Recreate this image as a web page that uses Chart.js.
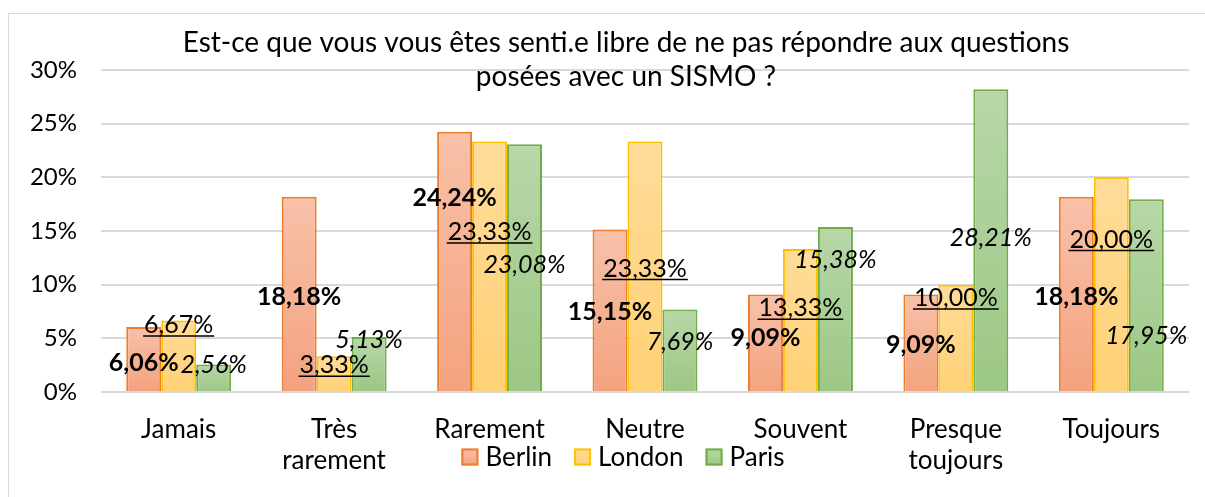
<!DOCTYPE html>
<html>
<head>
<meta charset="utf-8">
<script src="https://cdn.jsdelivr.net/npm/chart.js@4/dist/chart.umd.min.js"></script>
<style>
  html, body { margin: 0; padding: 0; background: #ffffff; }
  #wrap { position: relative; width: 1205px; height: 497px; }
  #frame { position: absolute; left: 8px; top: 13px; width: 1200px; height: 490px; border: 1.5px solid #d9d9d9; box-sizing: border-box; pointer-events: none; }
  canvas { position: absolute; left: 0; top: 0; }
</style>
</head>
<body>
<div id="wrap">
  <div id="frame"></div>
  <canvas id="c" width="1205" height="497"></canvas>
</div>
<script>
// ---- Data ----
const categories = ['Jamais', ['Très', 'rarement'], 'Rarement', 'Neutre', 'Souvent', ['Presque', 'toujours'], 'Toujours'];
const seriesNames = ['Berlin', 'London', 'Paris'];
const berlin = [6.06, 18.18, 24.24, 15.15, 9.09, 9.09, 18.18];
const london = [6.67, 3.33, 23.33, 23.33, 13.33, 10.00, 20.00];
const paris  = [2.56, 5.13, 23.08, 7.69, 15.38, 28.21, 17.95];
const yTicks = [0, 5, 10, 15, 20, 25, 30];
const titleLines = ['Est-ce que vous vous êtes senti.e libre de ne pas répondre aux questions', 'posées avec un SISMO ?'];

// label anchor heights (value units) as placed in the original
const berlinLabelAt = [2.7, 8.85, 18.1, 7.45, 5.0, 4.4, 8.85];
const londonLabelAt = [6.24, 2.5, 14.9, 11.5, 7.8, 8.76, 14.2];
const parisLabelAt  = [2.5, 4.85, 11.8, 4.66, 12.3, 14.35, 5.2];

// ---- Styles ----
const FONT = 'Lato, "Open Sans", sans-serif';
const FS_TITLE = 28, FS_TICK = 24, FS_CAT = 26, FS_LEG = 26, FS_LABEL = 25;
const styles = [
  { border: '#ed7d31', top: '#f8c1a9', bottom: '#f4a27e', weight: 'bold', italic: false, underline: false },
  { border: '#ffc000', top: '#ffdc9a', bottom: '#ffd175', weight: 'normal', italic: false, underline: true },
  { border: '#70ad47', top: '#b7d7a8', bottom: '#9dc785', weight: 'normal', italic: true, underline: false }
];
const labelAt = [berlinLabelAt, londonLabelAt, parisLabelAt];

function barGradient(i) {
  return function(ctx) {
    const chart = ctx.chart;
    const ys = chart.scales && chart.scales.y;
    if (!ys || ctx.type !== 'data') return styles[i].bottom;
    const top = ys.getPixelForValue(ctx.raw);
    const bottom = ys.getPixelForValue(0);
    if (!isFinite(top) || !isFinite(bottom) || top === bottom) return styles[i].bottom;
    const g = chart.ctx.createLinearGradient(0, top, 0, bottom);
    g.addColorStop(0, styles[i].top);
    g.addColorStop(1, styles[i].bottom);
    return g;
  };
}

const fmt = v => v.toFixed(2).replace('.', ',') + '%';

const overlayPlugin = {
  id: 'overlay',
  afterDatasetsDraw(chart) {
    const ctx = chart.ctx;
    const ys = chart.scales.y;
    ctx.save();
    chart.data.datasets.forEach((ds, di) => {
      const meta = chart.getDatasetMeta(di);
      const st = styles[di];
      meta.data.forEach((el, i) => {
        const txt = fmt(ds.data[i]);
        const x = el.x;
        const y = ys.getPixelForValue(labelAt[di][i]);
        ctx.font = (st.italic ? 'italic ' : '') + st.weight + ' ' + FS_LABEL + 'px ' + FONT;
        ctx.fillStyle = '#000000';
        ctx.textAlign = 'center';
        ctx.textBaseline = 'middle';
        ctx.fillText(txt, x, y);
        if (st.underline) {
          const w = ctx.measureText(txt).width;
          ctx.strokeStyle = '#000000';
          ctx.lineWidth = 1.5;
          ctx.beginPath();
          ctx.moveTo(x - w / 2 - 1, y + 11);
          ctx.lineTo(x + w / 2 + 1, y + 11);
          ctx.stroke();
        }
      });
    });
    ctx.restore();
  },
  afterDraw(chart) {
    const ctx = chart.ctx;
    ctx.save();
    // title
    ctx.font = 'normal ' + FS_TITLE + 'px ' + FONT;
    ctx.fillStyle = '#000000';
    ctx.textAlign = 'center';
    ctx.textBaseline = 'middle';
    ctx.fillText(titleLines[0], 626, 43);
    ctx.fillText(titleLines[1], 626, 77);
    // legend
    ctx.font = 'normal ' + FS_LEG + 'px ' + FONT;
    const box = 17, gapBox = 7, gapItem = 22;
    const widths = seriesNames.map(n => ctx.measureText(n).width);
    let total = 0;
    widths.forEach((w, i) => { total += box + gapBox + w + (i < widths.length - 1 ? gapItem : 0); });
    let x = 623 - total / 2;
    const cy = 457;
    seriesNames.forEach((n, i) => {
      const g = ctx.createLinearGradient(0, cy - box / 2, 0, cy + box / 2);
      g.addColorStop(0, styles[i].top);
      g.addColorStop(1, styles[i].bottom);
      ctx.fillStyle = g;
      ctx.fillRect(x, cy - box / 2, box, box);
      ctx.strokeStyle = styles[i].border;
      ctx.lineWidth = 2;
      ctx.strokeRect(x + 1, cy - box / 2 + 1, box - 2, box - 2);
      ctx.fillStyle = '#000000';
      ctx.textAlign = 'left';
      ctx.fillText(n, x + box + gapBox, cy + 1);
      x += box + gapBox + widths[i] + gapItem;
    });
    ctx.restore();
  }
};

const datasets = [berlin, london, paris].map((d, i) => ({
  label: seriesNames[i],
  data: d,
  backgroundColor: barGradient(i),
  borderColor: styles[i].border,
  borderWidth: 2,
  borderSkipped: 'bottom',
  categoryPercentage: 0.675,
  barPercentage: 1.0
}));

new Chart(document.getElementById('c'), {
  type: 'bar',
  data: { labels: categories, datasets },
  options: {
    responsive: false,
    animation: false,
    events: [],
    layout: { padding: { top: 70, right: 16, bottom: 0, left: 0 } },
    plugins: { legend: { display: false }, title: { display: false }, tooltip: { enabled: false } },
    scales: {
      x: {
        grid: { display: false, drawTicks: false },
        border: { display: false },
        ticks: { color: '#000000', font: { family: FONT, size: FS_CAT, lineHeight: 1.2 }, padding: 22, maxRotation: 0, autoSkip: false },
        afterFit: s => { s.height = 105; }
      },
      y: {
        min: 0, max: 30,
        afterBuildTicks: s => { s.ticks = yTicks.map(v => ({ value: v })); },
        grid: { color: '#d9d9d9', lineWidth: 2, drawTicks: false },
        border: { display: false },
        ticks: { color: '#000000', font: { family: FONT, size: FS_TICK }, padding: 24, callback: v => v + '%' },
        afterFit: s => { s.width = 101; }
      }
    }
  },
  plugins: [overlayPlugin]
});
</script>
</body>
</html>
